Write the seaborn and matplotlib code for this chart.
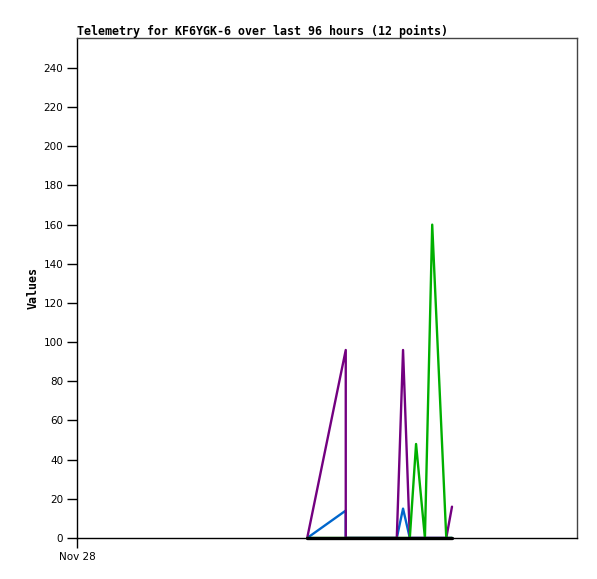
import matplotlib
matplotlib.use("Agg")
import matplotlib.pyplot as plt
import seaborn as sns
import pandas as pd

# hours since Nov 28 00:00 (axis spans 96 hours)
hours = [44.2, 51.6, 51.6, 61.4, 62.6, 63.9, 65.1, 66.8, 68.2, 70.9, 72.0]
purple_vals = [0, 96, 0, 0, 96, 0, 0, 0, 0, 0, 16]
blue_vals = [0, 14, 0, 0, 15, 0, 0, 0, 0, 0, 0]
green_vals = [0, 0, 0, 0, 0, 0, 48, 0, 160, 0, 0]
black_vals = [0, 0, 0, 0, 0, 0, 0, 0, 0, 0, 0]
series_names = ["ch2", "ch1", "ch3", "ch4"]
series_colors = ["#0066cc", "#730080", "#00b000", "#000000"]
x_tick_labels = ["Nov 28"]
title = "Telemetry for KF6YGK-6 over last 96 hours (12 points)"

rows = []
for name, vals in zip(series_names, [blue_vals, purple_vals, green_vals, black_vals]):
    for i, (h, v) in enumerate(zip(hours, vals)):
        rows.append({"hour": h, "value": v, "series": name, "order": i})
df = pd.DataFrame(rows)

sns.set_style("white")
plt.rcParams["text.color"] = "black"
plt.rcParams["axes.labelcolor"] = "black"
plt.rcParams["xtick.color"] = "black"
plt.rcParams["ytick.color"] = "black"
fig = plt.figure(figsize=(5.97, 5.79), dpi=100)
ax = fig.add_axes([77/597, 1 - 538/579, 500/597, 500/579])

sns.lineplot(data=df, x="hour", y="value", hue="series", hue_order=series_names,
             palette=series_colors, estimator=None, sort=False, units="series",
             linewidth=1.7, legend=False, ax=ax)
# black zero line is heavier in the reference
black_line = ax.get_lines()[3]
black_line.set_linewidth(2.4)
black_line.set_clip_on(False)
black_line.set_zorder(5)

ax.set_xlim(0, 96)
ax.set_ylim(0, 255.3)
ax.set_yticks(range(0, 241, 20))
ax.set_yticklabels([str(v) for v in range(0, 241, 20)], fontsize=7.5, family="DejaVu Sans")
ax.set_xticks([0])
ax.set_xticklabels(x_tick_labels, fontsize=7.5, family="DejaVu Sans")
ax.tick_params(axis="both", direction="out", length=7, width=1, color="black", pad=3,
               left=True, bottom=True, labelcolor="black")
ax.set_xlabel("")
ax.set_ylabel("Values", fontsize=8.4, fontweight="bold", family="DejaVu Sans Mono",
              labelpad=3, color="black")
ax.set_title(title, loc="left", fontsize=8.4, fontweight="bold", family="DejaVu Sans Mono",
             pad=2, color="black")

for side in ["left", "bottom"]:
    ax.spines[side].set_color("black")
    ax.spines[side].set_linewidth(1)
for side in ["top", "right"]:
    ax.spines[side].set_color("#444444")
    ax.spines[side].set_linewidth(1)

fig.savefig("out.png", dpi=100)
